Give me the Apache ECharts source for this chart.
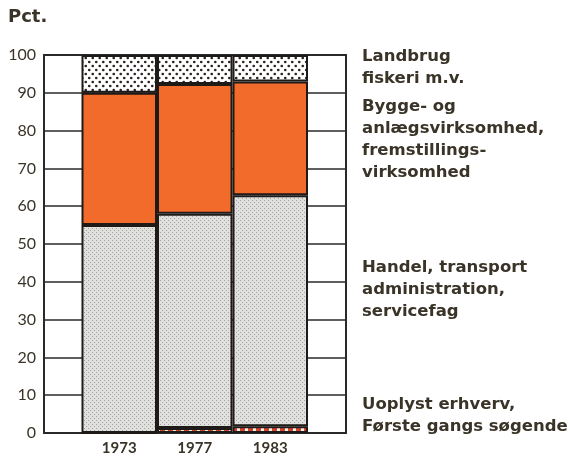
<!DOCTYPE html>
<html>
<head>
<meta charset="utf-8">
<title></title>
<style>
  html, body { margin: 0; padding: 0; background: #fff; }
  #main { width: 572px; height: 461px; }
</style>
</head>
<body>
<div id="main"></div>
<script src="https://cdn.jsdelivr.net/npm/echarts@6/dist/echarts.min.js"></script>
<script type="text/javascript">
// data (percent of each year)
var years = ['1973', '1977', '1983'];
var uoplyst = [0, 1.3, 1.8];       // Uoplyst erhverv, Første gangs søgende
var handel = [55, 56.7, 61.1];     // Handel, transport ...
var bygge = [35, 34.3, 30.1];      // Bygge- og anlæg ..., fremstilling
var landbrug = [10, 7.7, 7];       // Landbrug, fiskeri
var yTicks = [0, 10, 20, 30, 40, 50, 60, 70, 80, 90, 100];

// text on the right side
var labelBlocks = [
  { text: 'Landbrug\nfiskeri m.v.', y: 58 },
  { text: 'Bygge- og\nanlægsvirksomhed,\nfremstillings-\nvirksomhed', y: 108 },
  { text: 'Handel, transport\nadministration,\nservicefag', y: 269 },
  { text: 'Uoplyst erhverv,\nFørste gangs søgende', y: 406 }
];

// little canvas patterns for the hatched parts
function makePattern(w, h, draw) {
  var c = document.createElement('canvas');
  c.width = w; c.height = h;
  draw(c.getContext('2d'));
  return { image: c, repeat: 'repeat' };
}
var dotsCoarse = makePattern(7, 8, function (ctx) {
  ctx.fillStyle = '#fff'; ctx.fillRect(0, 0, 7, 8);
  ctx.fillStyle = '#2a2320';
  ctx.beginPath(); ctx.arc(1.75, 2, 1.35, 0, Math.PI * 2); ctx.fill();
  ctx.beginPath(); ctx.arc(5.25, 6, 1.35, 0, Math.PI * 2); ctx.fill();
});
var dotsFine = makePattern(4, 4, function (ctx) {
  ctx.fillStyle = '#e0e0de'; ctx.fillRect(0, 0, 4, 4);
  ctx.fillStyle = '#a2a2a0';
  ctx.fillRect(0, 0, 1, 1);
  ctx.fillRect(2, 2, 1, 1);
});
var dashRed = makePattern(8, 6, function (ctx) {
  ctx.fillStyle = '#fbeee8'; ctx.fillRect(0, 0, 8, 6);
  ctx.fillStyle = '#d2452a';
  ctx.fillRect(0, 0, 5, 6);
});

var chartDom = document.getElementById('main');
var myChart = echarts.init(chartDom);
var barBorder = { borderColor: '#1e1a18', borderWidth: 2 };
var textColor = '#3a3428';

function barSeries(name, values, color) {
  return {
    name: name, type: 'bar', stack: 'a', barWidth: '100%',
    xAxisIndex: 1, yAxisIndex: 1, data: values,
    itemStyle: Object.assign({ color: color }, barBorder)
  };
}

var option = {
  animation: false,
  backgroundColor: '#fff',
  textStyle: { fontFamily: 'Lato' },
  grid: [
    // outer frame with the horizontal lines
    { left: 44, top: 55, width: 302, height: 378,
      show: true, backgroundColor: '#fff', borderColor: '#2a2a2a', borderWidth: 2 },
    // inner part holding the three bars
    { left: 81.5, top: 55, width: 226.5, height: 378 }
  ],
  xAxis: [
    { gridIndex: 0, type: 'value', min: 0, max: 1, show: false },
    { gridIndex: 1, type: 'category', data: years,
      axisLine: { show: false }, axisTick: { show: false },
      axisLabel: { margin: 8, color: textColor, fontSize: 15, fontWeight: 'bold', fontFamily: 'Lato' } }
  ],
  yAxis: [
    { gridIndex: 0, type: 'value', min: yTicks[0], max: yTicks[yTicks.length - 1], interval: 10,
      axisLine: { show: false }, axisTick: { show: false },
      splitLine: { lineStyle: { color: '#2a2a2a', width: 1.5 } },
      axisLabel: { margin: 8, color: textColor, fontSize: 16, fontFamily: 'Lato' } },
    { gridIndex: 1, type: 'value', min: 0, max: 100, show: false }
  ],
  series: [
    barSeries('Uoplyst', uoplyst, dashRed),
    barSeries('Handel', handel, dotsFine),
    barSeries('Bygge', bygge, '#f36b2b'),
    barSeries('Landbrug', landbrug, dotsCoarse)
  ],
  graphic: [
    { type: 'text', left: 8, top: 8,
      style: { text: 'Pct.', font: 'bold 18px "DejaVu Sans"', fill: textColor } }
  ].concat(labelBlocks.map(function (b) {
    return {
      type: 'text', left: 362, top: b.y - 12,
      style: { text: b.text, font: 'bold 16.5px "DejaVu Sans"', fill: textColor, lineHeight: 22 }
    };
  }))
};
myChart.setOption(option);
</script>
</body>
</html>
